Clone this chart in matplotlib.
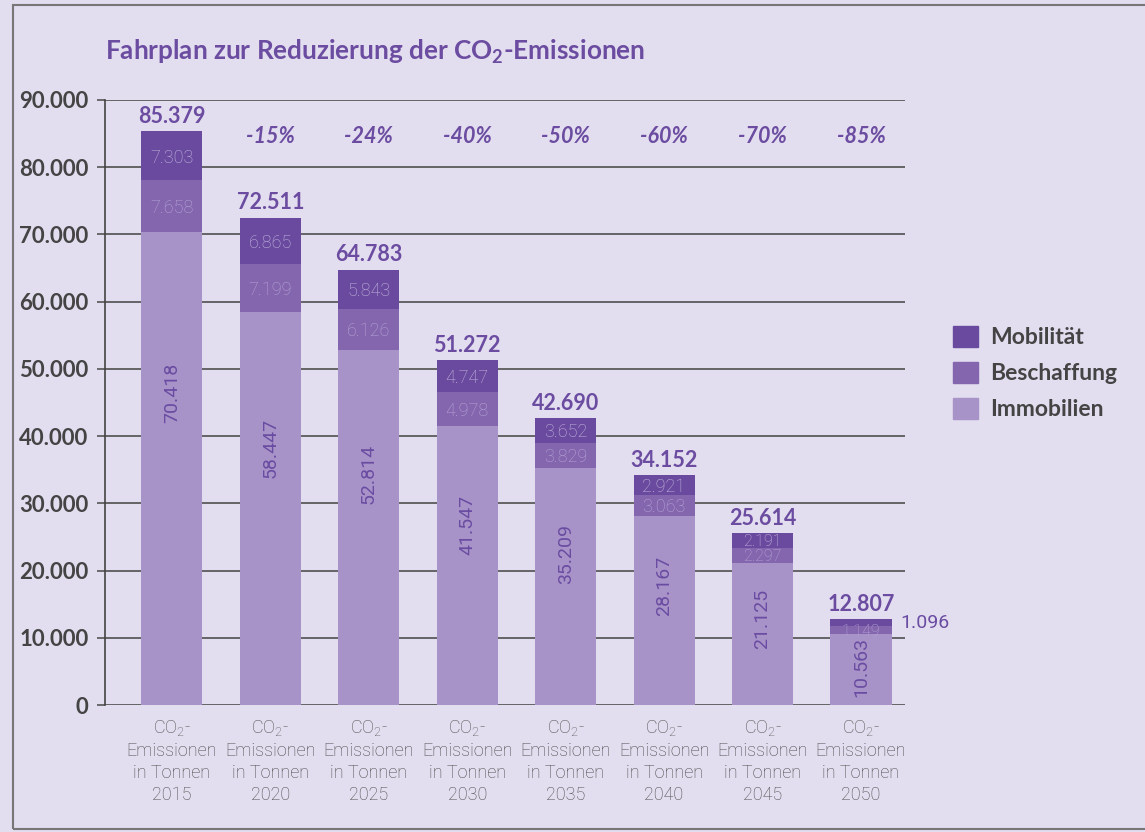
import matplotlib
matplotlib.use('Agg')
import matplotlib.pyplot as plt
from matplotlib.patches import Rectangle, Patch
import numpy as np

# data (tonnes CO2)
years = ['2015', '2020', '2025', '2030', '2035', '2040', '2045', '2050']
immobilien = [70418, 58447, 52814, 41547, 35209, 28167, 21125, 10563]
beschaffung = [7658, 7199, 6126, 4978, 3829, 3063, 2297, 1149]
mobilitaet = [7303, 6865, 5843, 4747, 3652, 2921, 2191, 1096]
totals = ['85.379', '72.511', '64.783', '51.272', '42.690', '34.152', '25.614', '12.807']
reductions = ['', '-15%', '-24%', '-40%', '-50%', '-60%', '-70%', '-85%']
yticks = [0, 10000, 20000, 30000, 40000, 50000, 60000, 70000, 80000, 90000]

BG = '#e2ddef'
C_MOB = '#6a4a9e'
C_BES = '#8466ae'
C_IMM = '#a793c8'
PURPLE = '#6b4ca0'
GREY = '#444444'

def fmt(v):
    return f'{v:,}'.replace(',', '.')

fig = plt.figure(figsize=(11.45, 8.32), dpi=100, facecolor=BG)
W, H = 1145, 832
ax = fig.add_axes([105 / W, (H - 705) / H, 800 / W, 605 / H])
ax.set_facecolor(BG)

x = np.arange(len(years))
bw = 0.62
imm = np.array(immobilien)
bes = np.array(beschaffung)
mob = np.array(mobilitaet)
r_imm = ax.bar(x, imm, bw, color=C_IMM, zorder=3)
r_bes = ax.bar(x, bes, bw, bottom=imm, color=C_BES, zorder=3)
r_mob = ax.bar(x, mob, bw, bottom=imm + bes, color=C_MOB, zorder=3)

bold = ['Lato', 'DejaVu Sans']
light = dict(family=['Roboto', 'DejaVu Sans'], fontweight='light')

ax.set_xlim(-0.68, 7.447)
ax.set_ylim(0, 90000)
ax.set_yticks(yticks)
ax.set_yticklabels([fmt(v) for v in yticks], fontsize=16, fontweight='bold',
                   color=GREY, family=bold)
ax.tick_params(axis='y', length=6, width=1.2, color='#555555', pad=6)
ax.yaxis.grid(True, color='#5a5a5a', lw=1.3, zorder=0)
for s in ['top', 'right', 'bottom']:
    ax.spines[s].set_visible(False)
ax.spines['left'].set_color('#444444')
ax.spines['left'].set_linewidth(1.2)

ax.set_xticks(x)
ax.set_xticklabels(['CO$_\\mathregular{2}$-\nEmissionen\nin Tonnen\n' + y for y in years],
                   fontsize=13, color='#4a4a4a', linespacing=1.3, **light)
ax.tick_params(axis='x', length=0, pad=9)

for i in range(len(years)):
    top = imm[i] + bes[i] + mob[i]
    # small segments get a slightly smaller label so they don't collide
    seg_fs = 13 if mob[i] > 2500 else 11.5
    # totals
    ax.annotate(totals[i], (x[i], top), xytext=(0, 3), textcoords='offset points',
                ha='center', va='bottom', fontsize=15.5, fontweight='bold',
                color=PURPLE, family=bold, zorder=5)
    if reductions[i]:
        ax.text(x[i], 84600, reductions[i], ha='center', va='center', fontsize=15.5,
                fontweight='bold', style='italic', color=PURPLE, family=bold)
    # Immobilien, rotated
    ax.text(x[i], 0.68 * imm[i] - 1500, fmt(immobilien[i]), rotation=90,
            ha='center', va='center', fontsize=14, color='#6a4ca2', zorder=4,
            family=['Roboto', 'DejaVu Sans'])
    # Beschaffung
    t = ax.text(x[i], imm[i] + bes[i] / 2, fmt(beschaffung[i]), ha='center',
                va='center_baseline', fontsize=seg_fs, color='#b4a5d6', zorder=4, **light)
    t.set_clip_path(r_bes[i])
    # Mobilitaet
    if i < len(years) - 1:
        ax.text(x[i], imm[i] + bes[i] + mob[i] / 2, fmt(mobilitaet[i]), ha='center',
                va='center_baseline', fontsize=seg_fs, color='#c3b7df', zorder=4, **light)
    else:
        ax.annotate(fmt(mobilitaet[i]), (x[i] + bw / 2, imm[i] + bes[i] + mob[i] / 2),
                    xytext=(6, 0), textcoords='offset points', ha='left', va='center',
                    fontsize=14, color='#6a4ca2', family=['Roboto', 'DejaVu Sans'])

fig.text(105 / W, 1 - 52 / H, 'Fahrplan zur Reduzierung der CO$_\\mathregular{2}$-Emissionen',
         fontsize=18.8, fontweight='bold', color=PURPLE, va='center', ha='left',
         family=bold)

handles = [Patch(color=C_MOB, label='Mobilität'),
           Patch(color=C_BES, label='Beschaffung'),
           Patch(color=C_IMM, label='Immobilien')]
leg = fig.legend(handles=handles, loc='center left',
                 bbox_to_anchor=(942 / W, 1 - 373 / H), frameon=False,
                 prop=dict(size=16.5, weight='bold', family=bold),
                 handlelength=1.05, handleheight=1.05, handletextpad=0.55,
                 labelspacing=0.6, borderpad=0)
for txt in leg.get_texts():
    txt.set_color(GREY)

# outer frame
fig.patches.append(Rectangle((13 / W, 3 / H), 1.2, 1 - 8 / H, transform=fig.transFigure,
                             fill=False, edgecolor='#777777', lw=1.5))

fig.savefig('out.png', dpi=100, facecolor=BG)
